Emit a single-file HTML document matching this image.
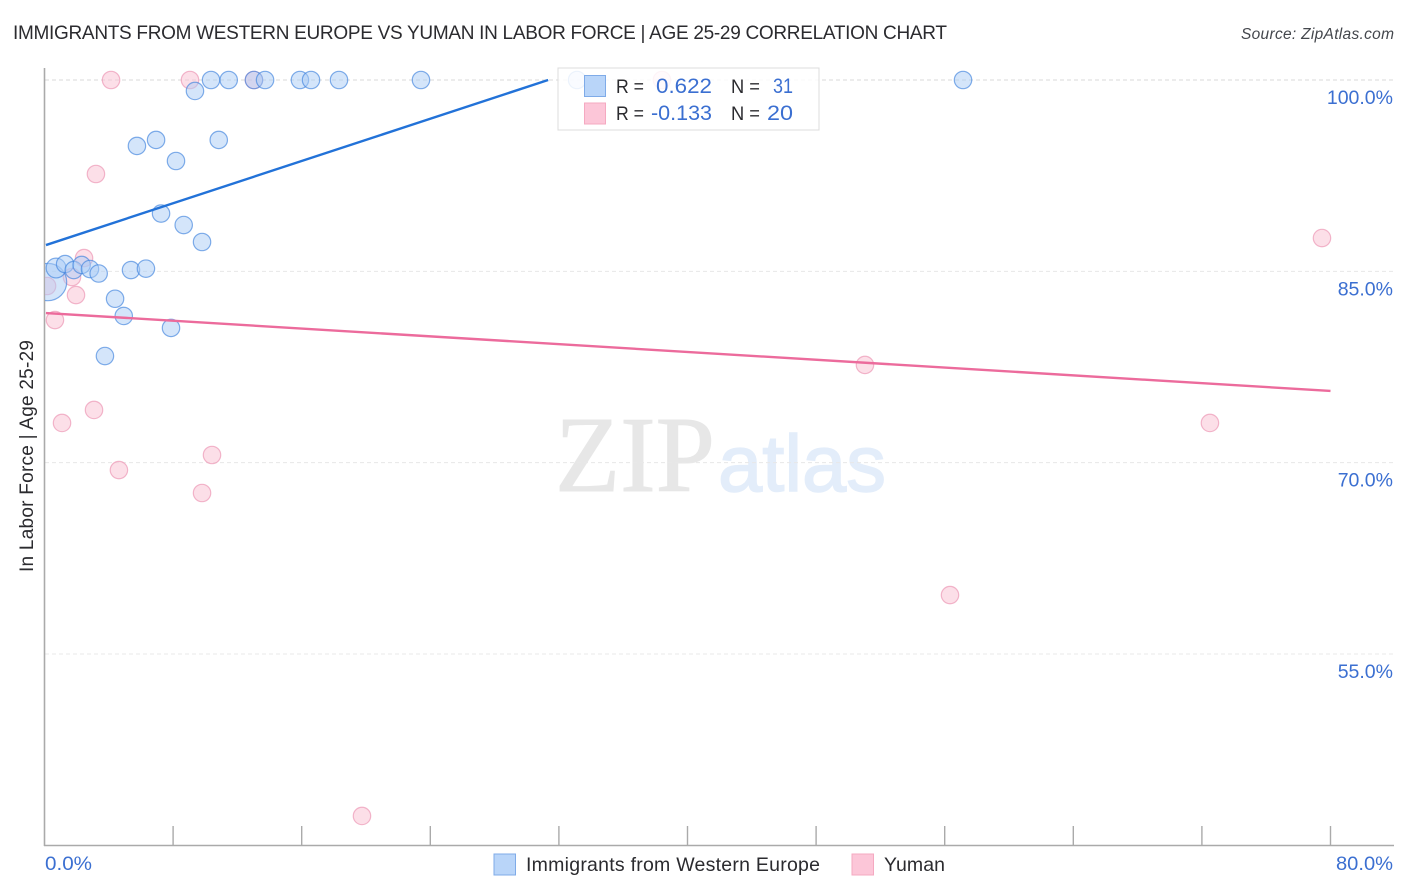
<!DOCTYPE html>
<html lang="en">
<head>
<meta charset="utf-8">
<title>Immigrants from Western Europe vs Yuman in Labor Force | Age 25-29 Correlation Chart</title>
<style>
html,body{margin:0;padding:0;background:#fff;}
svg{display:block;font-family:"Liberation Sans",sans-serif;}
</style>
</head>
<body>
<svg id="chart" xmlns="http://www.w3.org/2000/svg" width="1406" height="892" viewBox="0 0 1406 892">
  <defs><clipPath id="plot-clip"><rect x="45" y="60" width="1349" height="786"/></clipPath></defs>
  <rect x="0" y="0" width="1406" height="892" fill="#fff"/>
  <text x="13" y="39" font-size="19" fill="#2b2b2f" textLength="934" lengthAdjust="spacing">IMMIGRANTS FROM WESTERN EUROPE VS YUMAN IN LABOR FORCE | AGE 25-29 CORRELATION CHART</text>
  <text x="1241" y="39" font-size="15.5" font-style="italic" fill="#44474d" textLength="153" lengthAdjust="spacing">Source: ZipAtlas.com</text>
  <text x="555" y="491" font-family="'Liberation Serif',serif" font-size="108" fill="#e7e7e7" stroke="#e7e7e7" stroke-width="1" textLength="160" lengthAdjust="spacingAndGlyphs">ZIP</text>
  <text x="718" y="491" font-size="80" fill="#e3edfa" stroke="#e3edfa" stroke-width="1.5" textLength="168" lengthAdjust="spacingAndGlyphs">atlas</text>
  <g id="grid"></g>
  <g id="axes"></g>
  <g id="ylabels"></g>
  <g id="xlabels"></g>
  <text transform="translate(33,456) rotate(-90)" font-size="19" fill="#2b2b2f" text-anchor="middle" textLength="232" lengthAdjust="spacing">In Labor Force | Age 25-29</text>
  <g id="marks" clip-path="url(#plot-clip)"></g>

  <g>
    <rect x="558" y="68" width="261" height="62" fill="#ffffff" fill-opacity="0.85" stroke="#dcdcdc" stroke-width="1"/>
    <rect x="584.5" y="75.5" width="21" height="21" fill="#b9d5f9" stroke="#7fabe8" stroke-width="1"/>
    <rect x="584.5" y="103" width="21" height="21" fill="#fcc6d8" stroke="#f5a9c1" stroke-width="1"/>
    <text x="616" y="93" font-size="19" fill="#2b2b2f" textLength="28" lengthAdjust="spacingAndGlyphs">R =</text>
    <text x="656" y="93" font-size="21.5" fill="#3b6fd1" textLength="56" lengthAdjust="spacingAndGlyphs">0.622</text>
    <text x="731" y="93" font-size="19" fill="#2b2b2f" textLength="29" lengthAdjust="spacingAndGlyphs">N =</text>
    <text x="773" y="93" font-size="21.5" fill="#3b6fd1" textLength="20" lengthAdjust="spacingAndGlyphs">31</text>
    <text x="616" y="120" font-size="19" fill="#2b2b2f" textLength="28" lengthAdjust="spacingAndGlyphs">R =</text>
    <text x="651" y="120" font-size="21.5" fill="#3b6fd1" textLength="61" lengthAdjust="spacingAndGlyphs">-0.133</text>
    <text x="731" y="120" font-size="19" fill="#2b2b2f" textLength="29" lengthAdjust="spacingAndGlyphs">N =</text>
    <text x="767" y="120" font-size="21.5" fill="#3b6fd1" textLength="26" lengthAdjust="spacingAndGlyphs">20</text>
  </g>

  <g>
    <rect x="494" y="854" width="21.5" height="21" fill="#b9d5f9" stroke="#7fabe8" stroke-width="1"/>
    <text x="526" y="871" font-size="19.5" fill="#2b2b2f" textLength="294" lengthAdjust="spacing">Immigrants from Western Europe</text>
  </g>
  <g>
    <rect x="852" y="854" width="21.5" height="21" fill="#fcc6d8" stroke="#f5a9c1" stroke-width="1"/>
    <text x="884" y="871" font-size="19.5" fill="#2b2b2f" textLength="61" lengthAdjust="spacing">Yuman</text>
  </g>
</svg>
<script>
const yTicks = [100, 85, 70, 55];
const yTickLabels = ['100.0%', '85.0%', '70.0%', '55.0%'];
const xTicks = [0, 8, 16, 24, 32, 40, 48, 56, 64, 72, 80];
const xEndLabels = ['0.0%', '80.0%'];

const blueX = [0.22, 0.72, 1.28, 1.82, 2.31, 2.83, 3.37, 5.38, 6.31, 4.39, 4.93, 7.87, 3.76, 7.25, 8.66, 9.80, 8.18, 5.75, 6.94, 10.84, 9.36, 10.36, 11.46, 13.03, 13.72, 15.89, 16.58, 18.32, 23.42, 33.13, 57.14];
const blueY = [84.16, 85.26, 85.57, 85.10, 85.50, 85.18, 84.83, 85.10, 85.21, 82.85, 81.50, 80.56, 78.36, 89.53, 88.63, 87.30, 93.65, 94.83, 95.30, 95.30, 99.14, 100, 100, 100, 100, 100, 100, 100, 100, 100, 100];
const blueWeight = [4.6, 1.3, 1, 1, 1, 1, 1, 1, 1, 1, 1, 1, 1, 1, 1, 1, 1, 1, 1, 1, 1, 1, 1, 1, 1, 1, 1, 1, 1, 1, 1];

const pinkX = [4.14, 9.05, 13.03, 38.41, 3.20, 2.46, 1.71, 1.96, 0.16, 0.65, 1.09, 3.08, 4.63, 10.42, 9.80, 19.75, 51.04, 56.33, 72.50, 79.47];
const pinkY = [100, 100, 100, 100, 92.63, 86.04, 84.55, 83.14, 83.85, 81.18, 73.11, 74.13, 69.42, 70.60, 67.62, 42.30, 77.66, 59.62, 73.11, 87.61];

const blueTrendX = [0.09, 31.33];
const blueTrendY = [87.06, 100];
const pinkTrendX = [0.09, 80];
const pinkTrendY = [81.73, 75.62];

const NS = 'http://www.w3.org/2000/svg';
function xScale(v) { return 44.5 + v * 16.075; }
function yScale(v) { return 80 + (100 - v) * 12.755; }
function make(tag, attrs, parent, text) {
  const el = document.createElementNS(NS, tag);
  for (const k in attrs) el.setAttribute(k, attrs[k]);
  if (text !== undefined) el.textContent = text;
  parent.appendChild(el);
  return el;
}

const grid = document.getElementById('grid');
const axes = document.getElementById('axes');
const ylabels = document.getElementById('ylabels');
const xlabels = document.getElementById('xlabels');
const marks = document.getElementById('marks');

yTicks.forEach(function (t, i) {
  const line = make('line', { x1: 45, x2: 1394, y1: yScale(t), y2: yScale(t), stroke: i === 0 ? '#d8d8d8' : '#e8e8e8', 'stroke-width': 1, 'stroke-dasharray': '4 3' }, grid);
  
  
  const label = make('text', { x: 1393, y: yScale(t) + 24, 'font-size': 19.5, fill: '#3b6fd1', 'text-anchor': 'end' }, ylabels, yTickLabels[i]);
  
  
});

const yAxisLine = make('line', { x1: 44.5, x2: 44.5, y1: 68, y2: 846, stroke: '#aaaaaa', 'stroke-width': 1.6 }, axes);


const xAxisLine = make('line', { x1: 44, x2: 1394, y1: 845.5, y2: 845.5, stroke: '#aaaaaa', 'stroke-width': 1.6 }, axes);



xTicks.forEach(function (t) {
  if (t === 0) return;
  const tick = make('line', { x1: xScale(t), x2: xScale(t), y1: 826, y2: 846, stroke: '#aaaaaa', 'stroke-width': 1.4 }, axes);
  
  
});

const xLabelMin = make('text', { x: 45, y: 870, 'font-size': 19.5, fill: '#3b6fd1', textLength: 47, lengthAdjust: 'spacingAndGlyphs' }, xlabels, xEndLabels[0]);


const xLabelMax = make('text', { x: 1336, y: 870, 'font-size': 19.5, fill: '#3b6fd1', textLength: 57, lengthAdjust: 'spacingAndGlyphs' }, xlabels, xEndLabels[1]);



pinkX.forEach(function (v, i) {
  const dot = make('circle', { cx: xScale(v), cy: yScale(pinkY[i]), r: 8.7, fill: '#f9c4d6', 'fill-opacity': 0.55, stroke: '#ee9db9', 'stroke-opacity': 0.75, 'stroke-width': 1.2 }, marks);
  
  
});

blueX.forEach(function (v, i) {
  const dot = make('circle', { cx: xScale(v), cy: yScale(blueY[i]), r: 8.7 * Math.sqrt(blueWeight[i]), fill: '#a9cbf5', 'fill-opacity': 0.5, stroke: '#3f82dd', 'stroke-opacity': 0.65, 'stroke-width': 1.2 }, marks);
  
  
});

const blueTrend = make('line', { x1: xScale(blueTrendX[0]), y1: yScale(blueTrendY[0]), x2: xScale(blueTrendX[1]), y2: yScale(blueTrendY[1]), stroke: '#2272d8', 'stroke-width': 2.4 }, marks);


const pinkTrend = make('line', { x1: xScale(pinkTrendX[0]), y1: yScale(pinkTrendY[0]), x2: xScale(pinkTrendX[1]), y2: yScale(pinkTrendY[1]), stroke: '#ec6b9c', 'stroke-width': 2.4 }, marks);


</script>
</body>
</html>
